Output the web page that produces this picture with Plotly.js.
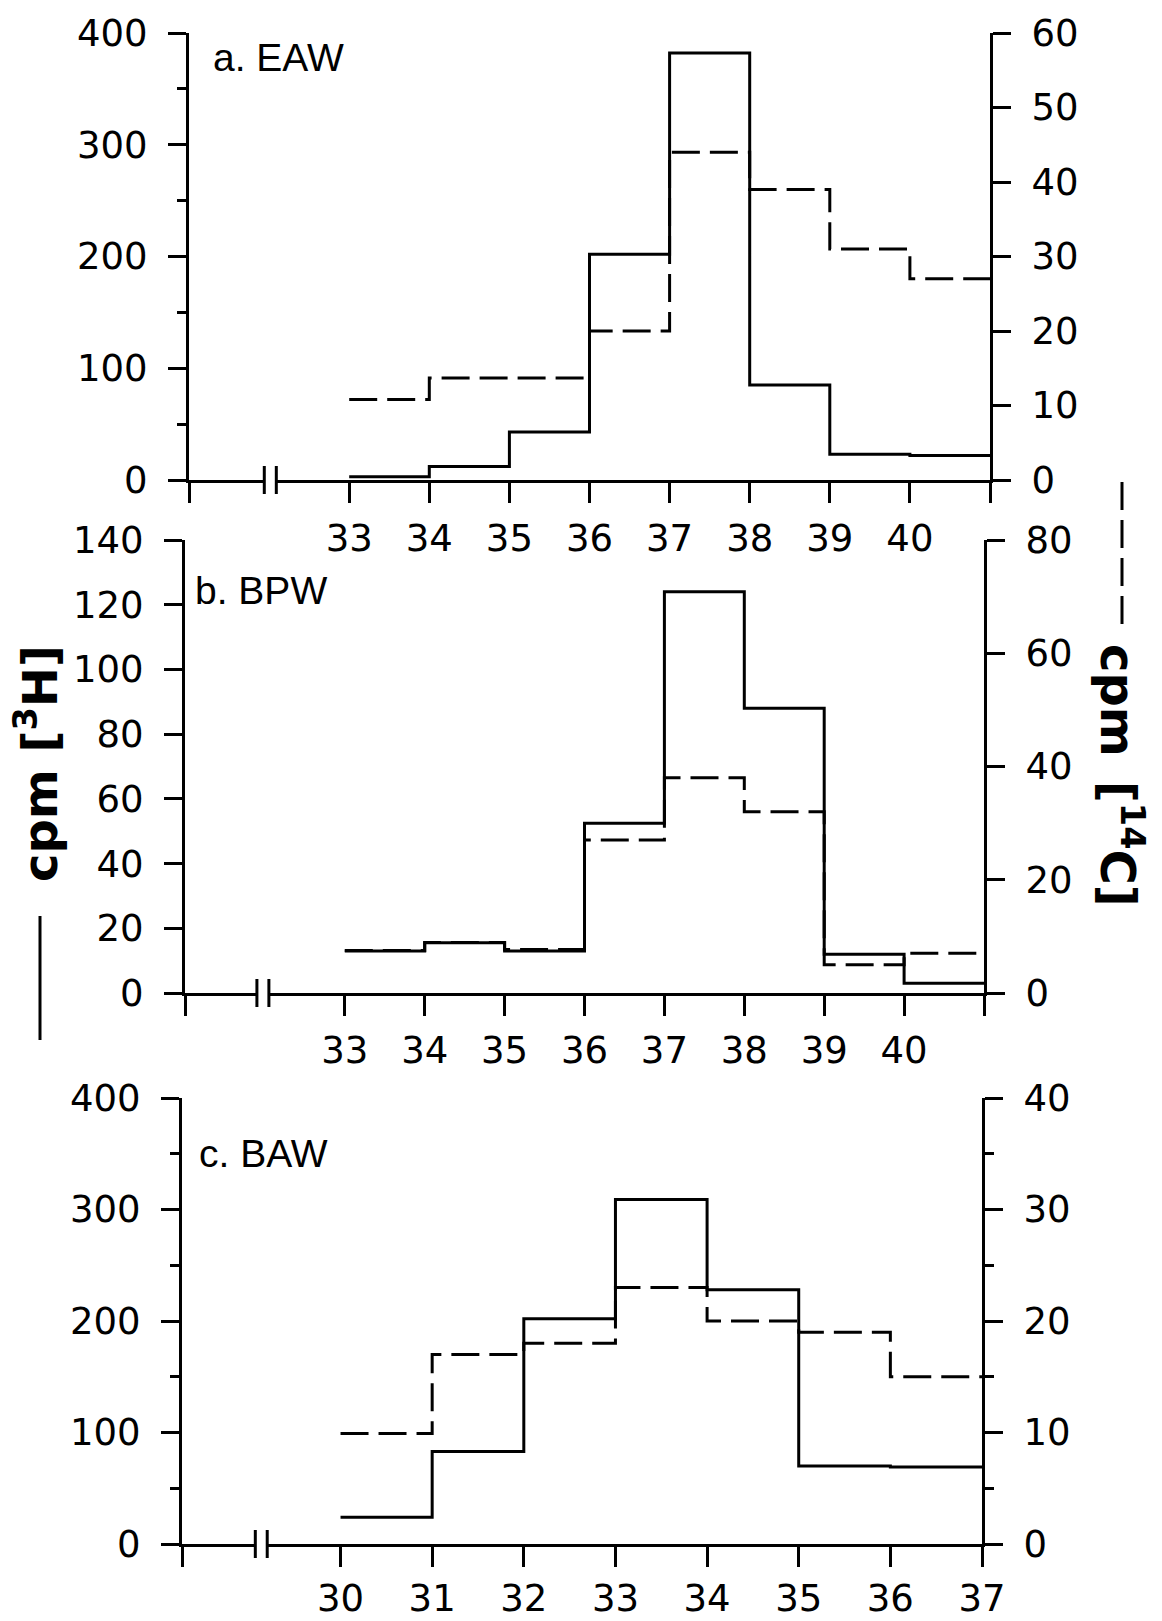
<!DOCTYPE html>
<html><head><meta charset="utf-8">
<script src="https://cdn.plot.ly/plotly-3.0.1.min.js"></script>
<style>html,body{margin:0;padding:0;background:#fff}</style>
</head><body><div id="chart" style="width:1162px;height:1621px"></div>
<script>
const W = 1162, H = 1621;

// ---- Panel a: EAW ----
const panelLabelA = 'a. EAW';
const binEdgesA = [33, 34, 35, 36, 37, 38, 39, 40, 41];
const tritiumA = [3, 12, 43, 202, 382, 85, 23, 22];          // cpm [3H], left axis
const carbonA  = [10.8, 13.7, 13.7, 20, 44, 39, 31, 27];       // cpm [14C], right axis
const tickValsA = [31, 33, 34, 35, 36, 37, 38, 39, 40, 41];
const tickTextA = ['', '33', '34', '35', '36', '37', '38', '39', '40', ''];

// ---- Panel b: BPW ----
const panelLabelB = 'b. BPW';
const binEdgesB = [33, 34, 35, 36, 37, 38, 39, 40, 41];
const tritiumB = [13, 15.5, 13, 52.5, 124, 88, 12, 3];
const carbonB  = [7.5, 8.9, 7.7, 27, 38, 32, 5, 7];
const tickValsB = [31, 33, 34, 35, 36, 37, 38, 39, 40, 41];
const tickTextB = ['', '33', '34', '35', '36', '37', '38', '39', '40', ''];

// ---- Panel c: BAW ----
const panelLabelC = 'c. BAW';
const binEdgesC = [30, 31, 32, 33, 34, 35, 36, 37];
const tritiumC = [24, 83, 202, 309, 228, 70, 69];
const carbonC  = [9.9, 17, 18, 23, 20, 19, 15];
const tickValsC = [28.27, 30, 31, 32, 33, 34, 35, 36, 37];
const tickTextC = ['', '30', '31', '32', '33', '34', '35', '36', '37'];

const leftTitle = 'cpm [<sup>3</sup>H]';
const rightTitle = 'cpm\u2002[<sup>14</sup>C]';

// axis-break positions (data x)
const breaksA = [31.94, 32.09];
const breaksB = [31.90, 32.05];
const breaksC = [29.07, 29.20];

const px = v => v / W;
const py = v => 1 - v / H;
const stepY = vals => vals.concat([vals[vals.length - 1]]);
const DASH = '28px,10px';

function stepTrace(xs, vals, xa, ya, dashed) {
  return {
    type: 'scatter', mode: 'lines', x: xs, y: stepY(vals), xaxis: xa, yaxis: ya,
    line: {shape: 'hv', color: '#000', width: 3, dash: dashed ? DASH : 'solid'},
    hoverinfo: 'skip', cliponaxis: false
  };
}

const data = [
  stepTrace(binEdgesA, carbonA, 'x', 'y2', true),
  stepTrace(binEdgesA, tritiumA, 'x', 'y', false),
  stepTrace(binEdgesB, carbonB, 'x2', 'y4', true),
  stepTrace(binEdgesB, tritiumB, 'x2', 'y3', false),
  stepTrace(binEdgesC, carbonC, 'x3', 'y6', true),
  stepTrace(binEdgesC, tritiumC, 'x3', 'y5', false)
];

const tickFont = {family: 'DejaVu Sans', size: 37, color: '#000'};

function xax(domainPx, range, tv, tt, anchor, standoff) {
  return {
    domain: [px(domainPx[0]), px(domainPx[1])], range: range, anchor: anchor,
    showline: true, linecolor: '#000', linewidth: 3, showgrid: false, zeroline: false,
    ticks: 'outside', ticklen: 20, tickwidth: 3, tickcolor: '#000',
    tickmode: 'array', tickvals: tv, ticktext: tt, tickfont: tickFont,
    ticklabelstandoff: standoff, fixedrange: true
  };
}
function yax(domainPx, range, dtick, side, minorD, anchor, overlay) {
  const a = {
    domain: [py(domainPx[1]), py(domainPx[0])], range: range, anchor: anchor, side: side,
    showline: true, linecolor: '#000', linewidth: 3, showgrid: false, zeroline: false,
    ticks: 'outside', ticklen: 18, tickwidth: 3, tickcolor: '#000',
    tick0: 0, dtick: dtick, tickfont: tickFont, ticklabelstandoff: 13, fixedrange: true
  };
  if (minorD) a.minor = {ticks: 'outside', ticklen: 9, tickwidth: 3, tickcolor: '#000', dtick: minorD, tick0: 0, showgrid: false};
  if (overlay) a.overlaying = overlay;
  return a;
}

// pixel frames of each panel: [top, bottom] and [left, right]
const frameA = {x: [189, 990], y: [33, 480]};
const frameB = {x: [185, 984], y: [540, 993]};
const frameC = {x: [182, 982], y: [1098, 1544]};

function breakShapes(bx, xref, axisY) {
  const s = [];
  s.push({type: 'rect', xref: xref, yref: 'paper', x0: bx[0], x1: bx[1], y0: py(axisY + 3), y1: py(axisY - 3),
          fillcolor: '#fff', line: {width: 0}, layer: 'above'});
  bx.forEach(b => s.push({type: 'line', xref: xref, yref: 'paper', x0: b, x1: b,
          y0: py(axisY + 14), y1: py(axisY - 14), line: {color: '#000', width: 3}, layer: 'above'}));
  return s;
}

const shapes = [].concat(
  breakShapes(breaksA, 'x', frameA.y[1]),
  breakShapes(breaksB, 'x2', frameB.y[1]),
  breakShapes(breaksC, 'x3', frameC.y[1]),
  [
    {type: 'line', xref: 'paper', yref: 'paper', x0: px(40), x1: px(40), y0: py(916), y1: py(1040),
     line: {color: '#000', width: 3}},
    {type: 'line', xref: 'paper', yref: 'paper', x0: px(1122), x1: px(1122), y0: py(482), y1: py(634),
     line: {color: '#000', width: 3, dash: DASH}}
  ]
);

const labelFont = {family: "'Liberation Sans', Arial, sans-serif", size: 39, color: '#000'};
const titleFont = {family: "'DejaVu Sans', sans-serif", size: 48, color: '#000', weight: 700};

const annotations = [
  {text: panelLabelA, xref: 'paper', yref: 'paper', x: px(211), y: py(57), xanchor: 'left', yanchor: 'middle', showarrow: false, font: labelFont},
  {text: panelLabelB, xref: 'paper', yref: 'paper', x: px(193), y: py(591), xanchor: 'left', yanchor: 'middle', showarrow: false, font: labelFont},
  {text: panelLabelC, xref: 'paper', yref: 'paper', x: px(197), y: py(1153), xanchor: 'left', yanchor: 'middle', showarrow: false, font: labelFont},
  {text: leftTitle, xref: 'paper', yref: 'paper', x: px(37), y: py(764), xanchor: 'center', yanchor: 'middle', textangle: -90, showarrow: false, font: titleFont},
  {text: rightTitle, xref: 'paper', yref: 'paper', x: px(1121), y: py(775), xanchor: 'center', yanchor: 'middle', textangle: 90, showarrow: false, font: titleFont}
];

const layout = {
  width: W, height: H, margin: {l: 0, r: 0, t: 0, b: 0},
  paper_bgcolor: '#fff', plot_bgcolor: '#fff', showlegend: false,
  font: {family: 'DejaVu Sans', color: '#000'},
  xaxis:  xax(frameA.x, [31, 41], tickValsA, tickTextA, 'y', 4),
  yaxis:  yax(frameA.y, [0, 400], 100, 'left', 50, 'x'),
  yaxis2: yax(frameA.y, [0, 60], 10, 'right', null, 'x', 'y'),
  xaxis2: xax(frameB.x, [31, 41], tickValsB, tickTextB, 'y3', 3),
  yaxis3: yax(frameB.y, [0, 140], 20, 'left', null, 'x2'),
  yaxis4: yax(frameB.y, [0, 80], 20, 'right', null, 'x2', 'y3'),
  xaxis3: xax(frameC.x, [28.27, 37], tickValsC, tickTextC, 'y5', 0),
  yaxis5: yax(frameC.y, [0, 400], 100, 'left', 50, 'x3'),
  yaxis6: yax(frameC.y, [0, 40], 10, 'right', 5, 'x3', 'y5'),
  shapes: shapes,
  annotations: annotations
};

Plotly.newPlot('chart', data, layout, {staticPlot: true, displayModeBar: false});
</script>
</body></html>
